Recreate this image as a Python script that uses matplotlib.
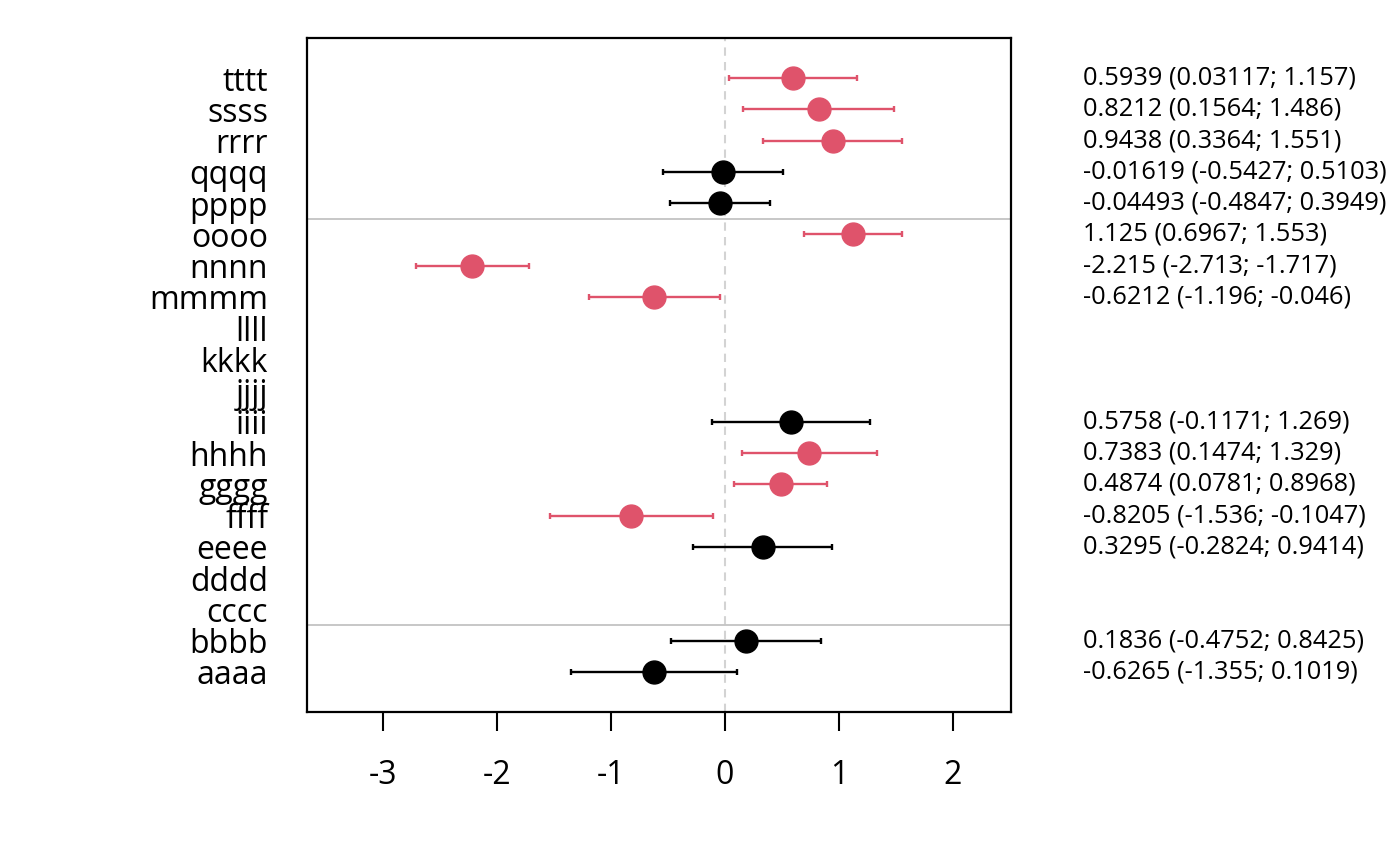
import numpy as np
import matplotlib
matplotlib.use("Agg")
import matplotlib.pyplot as plt
import matplotlib.transforms as mtransforms

plt.rcParams['font.family'] = ['Open Sans', 'DejaVu Sans']

# rows from bottom (aaaa) to top (tttt); None = no estimate
labels = ["aaaa", "bbbb", "cccc", "dddd", "eeee", "ffff", "gggg", "hhhh", "iiii", "jjjj",
          "kkkk", "llll", "mmmm", "nnnn", "oooo", "pppp", "qqqq", "rrrr", "ssss", "tttt"]
est = [-0.6265, 0.1836, None, None, 0.3295, -0.8205, 0.4874, 0.7383, 0.5758, None,
       None, None, -0.6212, -2.215, 1.125, -0.04493, -0.01619, 0.9438, 0.8212, 0.5939]
lower = [-1.355, -0.4752, None, None, -0.2824, -1.536, 0.0781, 0.1474, -0.1171, None,
         None, None, -1.196, -2.713, 0.6967, -0.4847, -0.5427, 0.3364, 0.1564, 0.03117]
upper = [0.1019, 0.8425, None, None, 0.9414, -0.1047, 0.8968, 1.329, 1.269, None,
         None, None, -0.046, -1.717, 1.553, 0.3949, 0.5103, 1.551, 1.486, 1.157]
separators = [2.5, 15.5]
xticks = [-3, -2, -1, 0, 1, 2]

RED = "#DF536B"

fig = plt.figure(figsize=(14, 8.66), dpi=100)
ax = fig.add_axes([307 / 1400, 1 - 712 / 866, 704 / 1400, 674 / 866])

ax.axvline(0, color="#D3D3D3", lw=1.5, ls=(0, (4, 3)), zorder=1)
for s in separators:
    ax.axhline(s, color="#BEBEBE", lw=1.2, zorder=1)

# right-hand text column: x in figure coords, y in data coords
txt_tr = mtransforms.blended_transform_factory(fig.transFigure, ax.transData)

ypos = np.arange(1, len(labels) + 1)
for y, e, lo, hi in zip(ypos, est, lower, upper):
    if e is None:
        continue
    col = RED if (lo > 0 or hi < 0) else "black"
    ax.errorbar([e], [y], xerr=[[e - lo], [hi - e]], fmt="o", color=col,
                ms=16.5, lw=1.7, capsize=2.5, capthick=1.7, zorder=3)
    ax.text(1083 / 1400, y, "%.4g (%.4g; %.4g)" % (e, lo, hi), transform=txt_tr,
            ha="left", va="center", fontsize=18.3)

ax.set_xlim(-3.6667, 2.5088)
ax.set_ylim(-0.28, 21.28)
ax.set_xticks(xticks)
ax.set_xticklabels([str(t) for t in xticks], fontsize=23)
ax.tick_params(axis="x", length=14, width=1.5, pad=20)
ax.set_yticks(ypos)
ax.set_yticklabels(labels, fontsize=23)
ax.tick_params(axis="y", length=0, pad=28)
for sp in ax.spines.values():
    sp.set_linewidth(1.6)

fig.savefig("out.png", dpi=100)
